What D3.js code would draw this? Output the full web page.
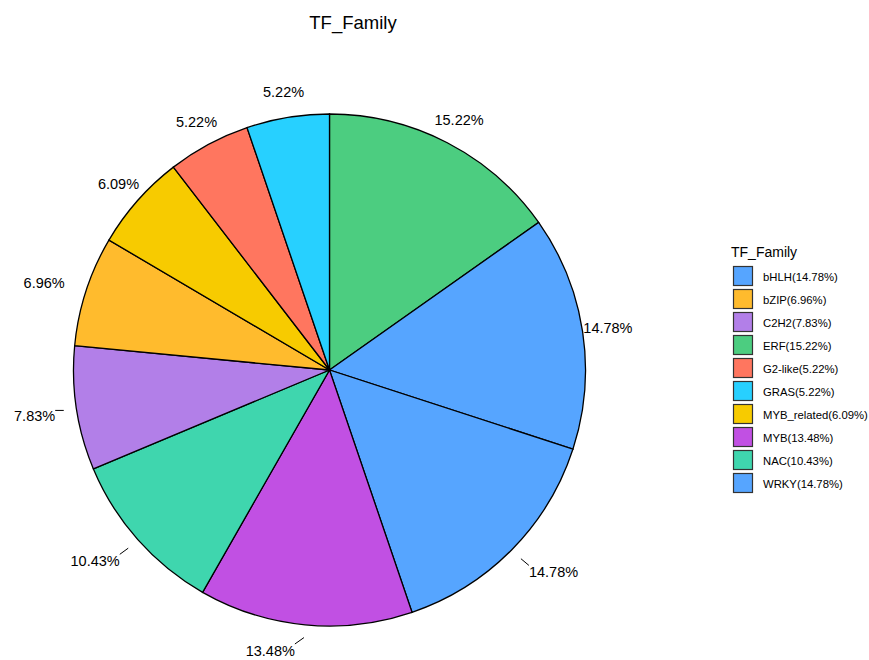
<!DOCTYPE html>
<html>
<head>
<meta charset="utf-8">
<script src="https://cdn.jsdelivr.net/npm/d3@7"></script>
<style>
  body { margin: 0; background: #fff; }
  text { font-family: "Liberation Sans", Arial, Helvetica, sans-serif; }
</style>
</head>
<body>
<div id="chart"></div>
<script>
// legend order
var families = ["bHLH", "bZIP", "C2H2", "ERF", "G2-like", "GRAS", "MYB_related", "MYB", "NAC", "WRKY"];
var percents = [14.78, 6.96, 7.83, 15.22, 5.22, 5.22, 6.09, 13.48, 10.43, 14.78];
var colors   = ["#56a5ff", "#ffbb2d", "#b27fe8", "#4ccd80", "#ff765f", "#27d0ff", "#f7cb00", "#c150e3", "#3fd6ae", "#56a5ff"];
// clockwise slice order, from 12 o'clock
var sliceOrder = ["ERF", "bHLH", "WRKY", "MYB", "NAC", "C2H2", "bZIP", "MYB_related", "G2-like", "GRAS"];

var width = 869, height = 660;
var cx = 329.5, cy = 370, r = 256;

var svg = d3.select("#chart").append("svg")
    .attr("width", width)
    .attr("height", height);

svg.append("text")
    .attr("x", 353).attr("y", 29)
    .attr("text-anchor", "middle")
    .attr("font-size", 18.5)
    .text("TF_Family");

var data = sliceOrder.map(function (f) {
    var i = families.indexOf(f);
    return {name: f, value: percents[i], color: colors[i]};
});

var pie = d3.pie().sort(null).value(function (d) { return d.value; });
var arcs = pie(data);
var arc = d3.arc().innerRadius(0).outerRadius(r);

var g = svg.append("g").attr("transform", "translate(" + cx + "," + cy + ")");

g.selectAll("path.slice")
    .data(arcs)
    .enter().append("path")
    .attr("class", "slice")
    .attr("d", arc)
    .attr("fill", function (d) { return d.data.color; })
    .attr("stroke", "#000")
    .attr("stroke-width", 1.3);

// labels at 1.1r; crowded lower/left ones get pushed sideways (repel-like)
function boxDist(px, py, w, h) {
    var nx = Math.max(px - w / 2, Math.min(0, px + w / 2));
    var ny = Math.max(py - h / 2, Math.min(0, py + h / 2));
    return Math.sqrt(nx * nx + ny * ny);
}
arcs.forEach(function (d) {
    var a = (d.startAngle + d.endAngle) / 2;
    var px = Math.sin(a) * r * 1.1, py = -Math.cos(a) * r * 1.1;
    var x0 = px;
    var t = g.append("text")
        .attr("text-anchor", "middle")
        .attr("dy", "0.35em")
        .attr("font-size", 14.5)
        .text(d.data.value.toFixed(2) + "%");
    var bb = t.node().getBBox();
    var w = bb.width, h = 12;
    var deg = a * 180 / Math.PI;
    var moved = false;
    if (deg > 120 && deg < 300) {
        var dir = Math.sin(a) > 0 ? 1 : -1;
        while (boxDist(px, py, w, h) < r * 1.08) { px += dir * 0.5; moved = true; }
        if (py > 0) py = Math.min(py + Math.abs(px - x0) * 0.2, height - cy - 9);
    }
    t.attr("x", px).attr("y", py);
    if (moved && py > 0) {
        var sx = Math.sin(a) * r * 1.05, sy = -Math.cos(a) * r * 1.05;
        var ex = Math.max(px - w / 2, Math.min(sx, px + w / 2));
        var ey = Math.max(py - h / 2 - 1, Math.min(sy, py + h / 2));
        if (Math.hypot(ex - sx, ey - sy) > 5) {
            g.append("line")
                .attr("x1", sx).attr("y1", sy)
                .attr("x2", ex).attr("y2", ey)
                .attr("stroke", "#000").attr("stroke-width", 1);
        }
    }
});

// legend
var lg = svg.append("g").attr("transform", "translate(731,0)");
lg.append("text").attr("x", 0).attr("y", 257).attr("font-size", 14).text("TF_Family");
var item = lg.selectAll("g.item")
    .data(families)
    .enter().append("g")
    .attr("class", "item")
    .attr("transform", function (d, i) { return "translate(0," + (265 + i * 23) + ")"; });
item.append("rect")
    .attr("x", 2.5).attr("y", 1.5)
    .attr("width", 19).attr("height", 19)
    .attr("fill", function (d, i) { return colors[i]; })
    .attr("stroke", "#333").attr("stroke-width", 1.2);
item.append("text")
    .attr("x", 32).attr("y", 15.5)
    .attr("font-size", 11.3)
    .text(function (d, i) { return d + "(" + percents[i].toFixed(2) + "%)"; });
</script>
</body>
</html>
